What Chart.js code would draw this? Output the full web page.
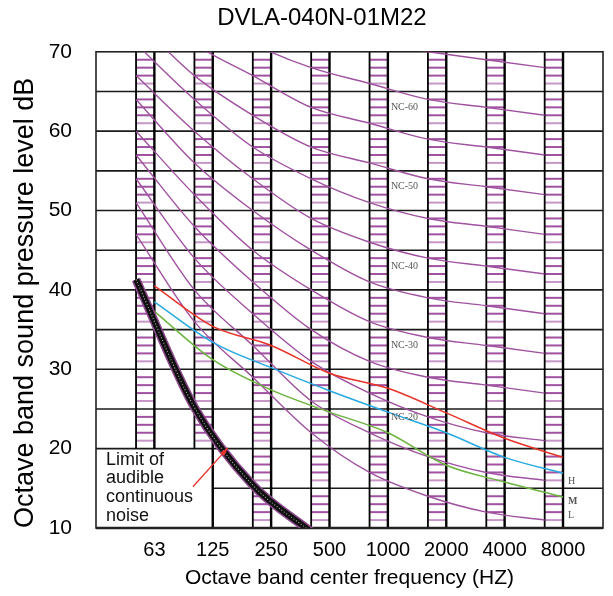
<!DOCTYPE html>
<html>
<head>
<meta charset="utf-8">
<title>DVLA-040N-01M22</title>
<script src="https://cdn.jsdelivr.net/npm/chart.js@4.4.1/dist/chart.umd.min.js"></script>
<style>
  html, body { margin: 0; padding: 0; background: #fff; }
  #nc-chart { display: block; }
</style>
</head>
<body>
<canvas id="nc-chart" width="613" height="596"></canvas>
<script>
const freqLabels = ['63', '125', '250', '500', '1000', '2000', '4000', '8000'];
const yTickValues = [10, 20, 30, 40, 50, 60, 70];

// NC reference curves, dB at each octave band
const ncLevels = [15, 20, 25, 30, 35, 40, 45, 50, 55, 60, 65, 70];
const ncCurves = [
    [47, 36, 29, 22, 17, 14, 12, 11],
    [51, 40, 33, 26, 22, 19, 17, 16],
    [54, 44, 37, 31, 27, 24, 22, 21],
    [57, 48, 41, 35, 31, 29, 28, 27],
    [60, 52, 45, 40, 36, 34, 33, 32],
    [64, 56, 50, 45, 41, 39, 38, 37],
    [67, 60, 54, 49, 46, 44, 43, 42],
    [71, 64, 58, 54, 51, 49, 48, 47],
    [74, 67, 62, 58, 56, 54, 53, 52],
    [77, 71, 67, 63, 61, 59, 58, 57],
    [80, 75, 71, 68, 66, 64, 63, 62],
    [83, 79, 75, 72, 71, 70, 69, 68]
];
const ncLabelled = [20, 30, 40, 50, 60];

// measured unit curves
const speedH = [40.5, 35.4, 33.0, 29.5, 27.6, 24.5, 21.3, 18.9];
const speedM = [38.5, 33.4, 30.2, 27.3, 24.6, 22.0, 18.9, 16.9];
const speedL = [37.3, 31.2, 27.4, 24.6, 22.0, 17.9, 15.8, 13.9];

// limit of audible continuous noise (63..500)
const audibleLimit = [41.3, 25.2, 15.4, 9.5];

const hmlLabels = ['H', 'M', 'L'];
const hmlLevels = [15.9, 13.4, 11.6];
const limitText = ['Limit of', 'audible', 'continuous', 'noise'];

const bandWidth = 0.314;   // hatched band width, in octave steps
const purple = '#a052a0';

function line(ctx, x0, y0, x1, y1) {
    ctx.beginPath();
    ctx.moveTo(x0, y0);
    ctx.lineTo(x1, y1);
    ctx.stroke();
}

const ncGrid = {
    id: 'ncGrid',
    beforeDatasetsDraw(chart) {
        const { ctx, chartArea: area, scales: { x, y } } = chart;
        const y20 = y.getPixelForValue(20);
        ctx.save();

        // hatched bands
        ctx.lineWidth = 2;
        freqLabels.forEach((f, i) => {
            const x0 = x.getPixelForValue(i - bandWidth);
            const x1 = x.getPixelForValue(i);
            const lowest = i < 2 ? 20 : 10;
            for (let d = lowest + 1; d < 70; d++) {
                if (d % 5 === 0) continue;
                ctx.strokeStyle = d % 5 === 1 ? 'rgba(160,82,160,0.6)' : purple;
                const yy = y.getPixelForValue(d);
                line(ctx, x0, yy, x1, yy);
            }
        });

        // horizontal lines every 5 dB
        ctx.strokeStyle = '#1a1a1a';
        ctx.lineWidth = 1.6;
        for (let d = 15; d < 70; d += 5) {
            const yy = y.getPixelForValue(d);
            const from = d === 15 ? x.getPixelForValue(1) : area.left;
            line(ctx, from, yy, area.right, yy);
        }

        // band edges
        ctx.strokeStyle = '#000';
        freqLabels.forEach((f, i) => {
            const xl = x.getPixelForValue(i - bandWidth);
            const xr = x.getPixelForValue(i);
            ctx.lineWidth = 1.8;
            line(ctx, xl, area.top, xl, i < 2 ? y20 : area.bottom);
            ctx.lineWidth = 2.4;
            line(ctx, xr, area.top, xr, i < 1 ? y20 : area.bottom);
        });

        // frame
        ctx.strokeStyle = '#222';
        ctx.lineWidth = 1.6;
        ctx.strokeRect(area.left, area.top, area.width, area.height);
        ctx.lineWidth = 2.6;
        line(ctx, area.left, area.bottom, area.right, area.bottom);
        ctx.restore();
    },
    afterDatasetsDraw(chart) {
        const { ctx, scales: { x, y } } = chart;
        ctx.save();

        // NC labels, just above each curve at 1000 Hz
        ctx.font = "10px 'Liberation Serif', serif";
        ctx.fillStyle = '#555';
        ctx.textAlign = 'left';
        ctx.textBaseline = 'middle';
        ncLabelled.forEach(nc => {
            const k = ncLevels.indexOf(nc);
            ctx.fillText('NC-' + nc, x.getPixelForValue(4) + 3, y.getPixelForValue(ncCurves[k][4] + 2));
        });

        // H / M / L
        hmlLabels.forEach((t, i) => {
            ctx.font = (t === 'M' ? 'bold ' : '') + "10px 'Liberation Serif', serif";
            ctx.fillText(t, x.getPixelForValue(7) + 5, y.getPixelForValue(hmlLevels[i]));
        });

        // limit note
        ctx.font = "18px 'Liberation Sans', Arial, sans-serif";
        ctx.fillStyle = '#111';
        const tx = x.getPixelForValue(-0.83);
        const ty = y.getPixelForValue(18.6);
        limitText.forEach((t, i) => ctx.fillText(t, tx, ty + i * 18.7));

        // red arrow to the limit curve
        const ax0 = x.getPixelForValue(0.66), ay0 = y.getPixelForValue(15.2);
        const ax1 = x.getPixelForValue(1.26), ay1 = y.getPixelForValue(20.1);
        ctx.strokeStyle = '#e8332a';
        ctx.fillStyle = '#e8332a';
        ctx.lineWidth = 1.3;
        line(ctx, ax0, ay0, ax1, ay1);
        const ang = Math.atan2(ay1 - ay0, ax1 - ax0);
        ctx.beginPath();
        ctx.moveTo(ax1, ay1);
        ctx.lineTo(ax1 - 9 * Math.cos(ang - 0.3), ay1 - 9 * Math.sin(ang - 0.3));
        ctx.lineTo(ax1 - 9 * Math.cos(ang + 0.3), ay1 - 9 * Math.sin(ang + 0.3));
        ctx.closePath();
        ctx.fill();
        ctx.restore();
    }
};

const atBands = values => values.map((v, i) => ({ x: i, y: v }));
const atBandEdges = values => values.map((v, i) => ({ x: i - bandWidth, y: v }));

const datasets = [];
ncCurves.forEach((curve, k) => {
    datasets.push({
        label: 'NC-' + ncLevels[k],
        data: atBandEdges(curve),
        borderColor: purple,
        borderWidth: 1.4,
        order: 5
    });
});
[[speedH, '#e8332a'], [speedM, '#27aae1'], [speedL, '#6cb33f']].forEach(([vals, col]) => {
    datasets.push({ data: atBands(vals), borderColor: col, borderWidth: 1.5, order: 3 });
});
datasets.push({ data: atBandEdges(audibleLimit), borderColor: '#8e4a8e', borderWidth: 9, order: 2 });
datasets.push({ data: atBandEdges(audibleLimit), borderColor: '#111', borderWidth: 6, order: 1 });
datasets.push({ data: atBandEdges(audibleLimit), borderColor: '#aaa', borderWidth: 1.1, borderDash: [1, 2], order: 0 });

Chart.defaults.font.family = "'Liberation Sans', Arial, sans-serif";
Chart.defaults.color = '#000';

new Chart(document.getElementById('nc-chart').getContext('2d'), {
    type: 'line',
    data: { datasets: datasets },
    options: {
        responsive: false,
        animation: false,
        devicePixelRatio: 1,
        elements: {
            point: { radius: 0 },
            line: { cubicInterpolationMode: 'monotone', fill: false }
        },
        layout: { padding: { left: 41, right: 10, top: 0, bottom: 0 } },
        plugins: {
            legend: { display: false },
            tooltip: { enabled: false },
            title: {
                display: true,
                text: 'DVLA-040N-01M22',
                font: { size: 24, weight: 'normal' },
                color: '#000',
                padding: { top: 4, bottom: 19 }
            }
        },
        scales: {
            x: {
                type: 'linear',
                min: -1,
                max: 7.685,
                grid: { display: false },
                border: { display: false },
                afterBuildTicks: axis => { axis.ticks = freqLabels.map((f, i) => ({ value: i })); },
                afterFit: axis => { axis.height = 68; },
                ticks: {
                    autoSkip: false,
                    maxRotation: 0,
                    padding: 2,
                    font: { size: 20 },
                    callback: v => freqLabels[v]
                },
                title: {
                    display: true,
                    text: 'Octave band center frequency (HZ)',
                    font: { size: 21 },
                    padding: { top: 0, bottom: 5 }
                }
            },
            y: {
                min: 10,
                max: 70,
                grid: { display: false },
                border: { display: false },
                afterBuildTicks: axis => { axis.ticks = yTickValues.map(v => ({ value: v })); },
                afterFit: axis => { axis.width = 55; },
                ticks: { padding: 16, font: { size: 21 } },
                title: {
                    display: true,
                    text: 'Octave band sound pressure level dB',
                    align: 'start',
                    font: { size: 27 },
                    padding: { top: -32, bottom: 0 }
                }
            }
        }
    },
    plugins: [ncGrid]
});
</script>
</body>
</html>
